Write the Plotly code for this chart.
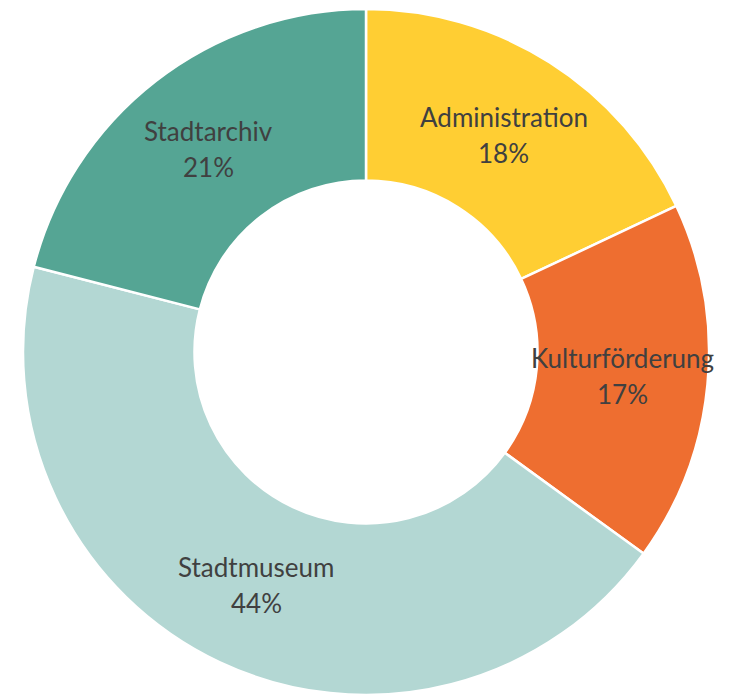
import math
import plotly.graph_objects as go

categories = ["Administration", "Kulturförderung", "Stadtmuseum", "Stadtarchiv"]
shares = [18, 17, 44, 21]
colors = ["#FFCE33", "#EE6E30", "#B3D7D3", "#55A594"]

W, H = 731, 694
# page body has an 8px margin; compensate so the donut sits where the reference has it
cx, cy, R = 366 - 8, 352 - 8, 343
HOLE = 0.5

fig = go.Figure(go.Pie(
    labels=categories,
    values=shares,
    hole=HOLE,
    sort=False,
    direction="clockwise",
    rotation=0,
    marker=dict(colors=colors, line=dict(color="white", width=2.5)),
    textinfo="none",
    domain=dict(x=[(cx - R) / W, (cx + R) / W], y=[(H - cy - R) / H, (H - cy + R) / H]),
    hoverinfo="label+percent",
))

# data labels at the middle of the ring, along each slice's bisector
total = sum(shares)
rmid = R * (1 + HOLE) / 2
cum = 0
font = dict(family="Lato, Open Sans, sans-serif", size=26, color="#404040")
for cat, v in zip(categories, shares):
    mid = (cum + v / 2) / total * 2 * math.pi
    cum += v
    px = cx + rmid * math.sin(mid)
    py = cy - rmid * math.cos(mid)
    xp, yp = px / W, (H - py) / H
    pct = f"{round(v / total * 100)}%"
    for txt, shift in ((cat, 18), (pct, -18)):
        fig.add_annotation(x=xp, y=yp, xref="paper", yref="paper", text=txt,
                           showarrow=False, xanchor="center", yanchor="middle",
                           yshift=shift, font=font)

fig.update_layout(
    width=W, height=H,
    margin=dict(l=0, r=0, t=0, b=0),
    showlegend=False,
    paper_bgcolor="white",
)
fig.write_html("out.html")
